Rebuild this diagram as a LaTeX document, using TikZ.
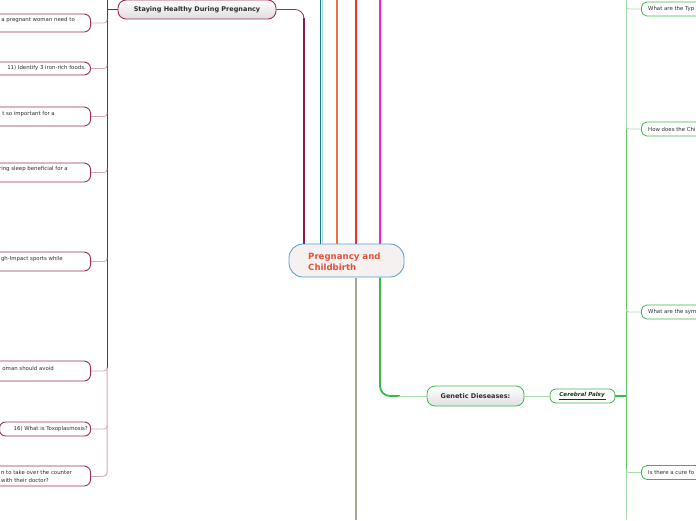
\documentclass[tikz,border=0pt]{standalone}
\usepackage{fontspec}
\setmainfont{DejaVu Sans}
\definecolor{maroonA}{HTML}{8A1C50}
\definecolor{maroonB}{HTML}{9B2D60}
\definecolor{pinkC}{HTML}{D9A6C2}
\definecolor{tealA}{HTML}{117A7A}
\definecolor{tealL}{HTML}{A8D8E0}
\definecolor{orangeA}{HTML}{F26A3D}
\definecolor{redA}{HTML}{EE2A32}
\definecolor{magA}{HTML}{FF1FC8}
\definecolor{grayA}{HTML}{A8A896}
\definecolor{greenA}{HTML}{3CB84A}
\definecolor{greenM}{HTML}{62C46C}
\definecolor{greenL}{HTML}{A6DEA8}
\definecolor{blueA}{HTML}{4A9ED8}
\definecolor{titleR}{HTML}{E8503A}
\definecolor{textG}{HTML}{2E2E2E}
\begin{document}
\begin{tikzpicture}[x=1pt,y=-1pt,
  small/.style={font=\fontsize{5.4}{7}\selectfont, text=textG, inner sep=0pt},
  lbox/.style={draw=maroonB, line width=0.9pt, fill=white, rounded corners=6.5pt, minimum width=170pt, inner sep=0pt, anchor=east},
  rbox/.style={draw=greenA, line width=0.8pt, fill=white, rounded corners=5.5pt, minimum width=120pt, minimum height=14pt, inner sep=0pt, anchor=west},
  lconn/.style={draw=pinkC, line width=0.8pt, rounded corners=3pt},
  gconn/.style={draw=greenL, line width=0.8pt, rounded corners=3pt},
  branch/.style={line width=1.8pt},
]
\useasboundingbox (0,0) rectangle (696,520);
\clip (0,0) rectangle (696,520);

% ---------- left trunk ----------
\draw[maroonA, line width=1pt] (107,0) -- (107,368);
\draw[pinkC, line width=1pt, rounded corners=3pt] (107,368) -- (107,476) -- (103,476);

% ---------- left boxes ----------
\node[lbox, minimum height=18pt] (b1) at (91,23) {};
\node[lbox, minimum height=13pt] (b2) at (91,68.5) {};
\node[lbox, minimum height=19pt] (b3) at (91,116.5) {};
\node[lbox, minimum height=19pt] (b4) at (91,172.5) {};
\node[lbox, minimum height=19pt] (b5) at (91,261.5) {};
\node[lbox, minimum height=20pt] (b6) at (91,371) {};
\node[draw=maroonB, line width=0.9pt, fill=white, rounded corners=6pt, minimum width=91pt, minimum height=14pt, inner sep=0pt, anchor=east] (b7) at (91,429) {};
\node[lbox, minimum height=20pt] (b8) at (91,476) {};

\node[small, anchor=east] (t1) at (75,20) {a pregnant woman need to};
\node[small, anchor=east] (t2) at (86,68.5) {11) Identify 3 iron-rich foods.};
\node[small, anchor=east] (t3) at (55,114) {t so important for a};
\node[small, anchor=east] (t4) at (68,169) {ring sleep beneficial for a};
\node[small, anchor=east] (t5) at (63,259) {gh-Impact sports while};
\node[small, anchor=east] (t6) at (54,368) {oman should avoid};
\node[small, anchor=east] (t7) at (88,429) {16) What is Toxoplasmosis?};
\node[small, anchor=east] (t8) at (72,472.5) {n to take over the counter};
\node[small, anchor=east] (t9) at (49,480) {with their doctor?};

\foreach \b/\y in {b1/23,b2/68.5,b3/116.5,b4/172.5,b5/261.5,b6/371,b7/429}{
  \draw[lconn] (\b.east) -- (107,\y) -- (107,\y-4);
}
\draw[lconn] (b8.east) -- (103,476);

% ---------- center node ----------
\node[draw=blueA, line width=0.8pt, fill={rgb,255:red,246;green,241;blue,241}, rounded corners=14pt,
  minimum width=115pt, minimum height=33pt, inner sep=0pt] (c) at (346.5,260.5) {};
\node[font=\bfseries\fontsize{8.6}{11}\selectfont, text=titleR, align=left, anchor=west, inner sep=0pt] (ct) at (308,261.5) {Pregnancy and\\Childbirth};

% ---------- staying healthy ----------
\node[draw=maroonB, line width=0.9pt, top color=white, bottom color={rgb,255:red,222;green,220;blue,222}, rounded corners=8pt,
  minimum width=158pt, minimum height=19pt, inner sep=0pt, font=\bfseries\fontsize{6.5}{8}\selectfont, text=textG] (sh) at (197,9.5) {Staying Healthy During Pregnancy};
\draw[maroonA, line width=1pt] (sh.west) -- (107,9.5);
\draw[maroonB, line width=0.8pt, rounded corners=9pt] (sh.east) -- (304,9.5) -- (304,40);
\draw[maroonA, branch] (304,18) -- (304,243.5);

% ---------- upward branches ----------
\draw[tealL, line width=0.8pt] (322,0) -- (322,243.5);
\draw[tealA, branch] (320.5,0) -- (320.5,243.5);
\draw[orangeA, branch] (337,0) -- (337,243.5);
\draw[redA, branch] (356,0) -- (356,243.5);
\draw[magA, branch] (380,0) -- (380,243.5);

% ---------- downward branches ----------
\draw[grayA, branch] (356,277.5) -- (356,520);
\draw[greenA, branch, rounded corners=10pt] (380,277.5) -- (380,396) -- (400,396);

% ---------- genetic diseases ----------
\node[draw=greenA, line width=0.8pt, top color=white, bottom color={rgb,255:red,224;green,224;blue,226}, rounded corners=8pt,
  minimum width=97pt, minimum height=20pt, inner sep=0pt, font=\bfseries\fontsize{6.5}{8}\selectfont, text=textG] (gd) at (475.5,396) {Genetic Dieseases:};
\draw[gconn] (398,396) -- (gd.west);

\node[draw=greenA, line width=0.8pt, fill=white, rounded corners=6pt, minimum width=65pt, minimum height=14pt, inner sep=0pt,
  font=\bfseries\itshape\fontsize{5.6}{7}\selectfont, text={rgb,255:red,20;green,60;blue,20}] (cp) at (582.5,396) {\underline{Cerebral Palsy\,}};
\draw[gconn] (gd.east) -- (cp.west);
\draw[greenA, line width=1.2pt] (cp.east) -- (626,396);

% ---------- right trunk ----------
\draw[greenL, line width=1pt] (626,0) -- (626,520);
\draw[greenM, line width=1pt] (626,129) -- (626,472);

\node[rbox] (r1) at (641,9) {};
\node[rbox] (r2) at (641,129) {};
\node[rbox] (r3) at (641,312) {};
\node[rbox] (r4) at (641,472.5) {};
\node[small, anchor=west] (s1) at (648,9) {What are the Typ};
\node[small, anchor=west] (s2) at (648,129) {How does the Chi};
\node[small, anchor=west] (s3) at (648,312) {What are the sym};
\node[small, anchor=west] (s4) at (648,472.5) {Is there a cure fo};

\foreach \r/\y in {r1/9,r2/129,r3/312,r4/472.5}{
  \draw[gconn] (\r.west) -- (626,\y) -- (626,\y-4);
}
\end{tikzpicture}
\end{document}
